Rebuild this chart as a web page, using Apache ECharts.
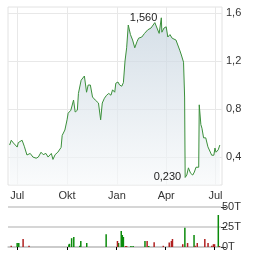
<!DOCTYPE html>
<html><head><meta charset="utf-8">
<script src="https://cdn.jsdelivr.net/npm/echarts@6/dist/echarts.min.js"></script>
<style>html,body{margin:0;padding:0;background:#fff}#c{width:264px;height:255px}</style>
</head><body><div id="c"></div>
<script>
var priceDates = ["2023-06-17","2023-06-20","2023-06-24","2023-06-27","2023-07-01","2023-07-03","2023-07-06","2023-07-10","2023-07-14","2023-07-19","2023-07-25","2023-07-30","2023-08-05","2023-08-09","2023-08-14","2023-08-18","2023-08-23","2023-08-27","2023-09-02","2023-09-05","2023-09-09","2023-09-14","2023-09-20","2023-09-22","2023-09-27","2023-10-01","2023-10-03","2023-10-06","2023-10-08","2023-10-10","2023-10-13","2023-10-16","2023-10-20","2023-10-22","2023-10-27","2023-11-02","2023-11-06","2023-11-09","2023-11-13","2023-11-17","2023-11-22","2023-11-28","2023-12-02","2023-12-05","2023-12-09","2023-12-13","2023-12-17","2023-12-21","2023-12-24","2023-12-28","2023-12-30","2024-01-03","2024-01-06","2024-01-10","2024-01-13","2024-01-16","2024-01-19","2024-01-22","2024-01-26","2024-01-30","2024-02-03","2024-02-07","2024-02-10","2024-02-16","2024-02-21","2024-02-27","2024-03-04","2024-03-07","2024-03-11","2024-03-15","2024-03-19","2024-03-23","2024-03-24","2024-03-28","2024-04-01","2024-04-04","2024-04-08","2024-04-12","2024-04-15","2024-04-19","2024-04-22","2024-04-26","2024-04-29","2024-05-03","2024-05-05","2024-05-06","2024-05-09","2024-05-12","2024-05-16","2024-05-20","2024-05-23","2024-05-26","2024-05-31","2024-06-01","2024-06-04","2024-06-06","2024-06-09","2024-06-13","2024-06-17","2024-06-20","2024-06-24","2024-06-28","2024-06-30","2024-07-02","2024-07-06","2024-07-09"];
var priceValues = [0.50,0.54,0.517,0.52,0.483,0.52,0.525,0.54,0.49,0.417,0.43,0.40,0.39,0.40,0.44,0.42,0.43,0.40,0.43,0.38,0.42,0.44,0.48,0.58,0.625,0.71,0.765,0.77,0.79,0.79,0.875,0.775,0.79,0.93,1.04,1.075,0.94,1.0,1.0,0.90,0.875,0.85,0.71,0.85,0.89,0.915,0.93,0.915,0.96,0.94,1.015,1.025,1.0,0.99,1.02,1.2,1.31,1.50,1.42,1.375,1.31,1.36,1.39,1.40,1.43,1.46,1.475,1.485,1.52,1.475,1.43,1.56,1.44,1.475,1.485,1.40,1.42,1.39,1.40,1.375,1.36,1.29,1.25,1.19,0.90,0.23,0.25,0.31,0.265,0.25,0.275,0.315,0.315,0.835,0.67,0.64,0.56,0.56,0.485,0.475,0.415,0.415,0.475,0.44,0.46,0.50];

var volUpDates = ["2023-07-01","2023-07-04","2023-10-05","2023-10-06","2023-10-10","2023-10-14","2023-10-25","2023-10-27","2023-11-07","2023-12-13","2024-01-05","2024-01-10","2024-01-12","2024-01-14","2024-01-28","2024-02-01","2024-02-23","2024-03-01","2024-05-07","2024-05-24","2024-07-08"];
var volUpValues = [5,5,3,4,11,12.5,1.5,7.5,5,16,5,20,15,12.5,1.2,1.2,7.5,1.2,24,15,40];
var volDownDates = ["2023-06-20","2023-07-12","2023-07-23","2024-01-03","2024-01-18","2024-01-20","2024-02-27","2024-03-11","2024-03-28","2024-04-08","2024-04-12","2024-04-14","2024-05-03","2024-05-12","2024-05-26","2024-05-30","2024-06-13","2024-06-19","2024-06-26","2024-06-29","2024-07-01","2024-07-10"];
var volDownValues = [1.5,10,1.5,7.5,1.2,1.2,7.5,6,1.5,5.5,7.5,10,3.5,5,1.5,5,10,5,1.5,3.5,3.5,1.2];

var xTickDates = ["2023-07-01","2023-10-01","2024-01-01","2024-04-01","2024-07-01"];
var xTickLabels = ["Jul","Okt","Jan","Apr","Jul"];
var yTicks = [0.4,0.8,1.2,1.6];

function ts(d){ var p=d.split('-'); return Date.UTC(+p[0],+p[1]-1,+p[2]); }
function zip(a,b){ return a.map(function(d,i){ return [ts(d), b[i]]; }); }
var xMin = ts("2023-06-14"), xMax = ts("2024-07-13");
var tickTs = xTickDates.map(ts);
var FONT = 'Liberation Sans';
var chart = echarts.init(document.getElementById('c'));
chart.setOption({
  animation:false,
  textStyle:{fontFamily:FONT},
  grid:[
    {left:8, right:42, top:7, height:178, show:true, borderColor:'#e2e2e2', borderWidth:1, backgroundColor:'transparent'},
    {left:8, right:43, top:207, height:40}
  ],
  xAxis:[
    {type:'value', gridIndex:0, min:xMin, max:xMax,
     axisLine:{show:false}, axisTick:{show:false, customValues:tickTs},
     splitLine:{show:true, lineStyle:{color:'#e8e8e8', width:1}},
     axisLabel:{customValues:tickTs, color:'#333', fontSize:11, fontFamily:FONT, margin:5,
       formatter:function(v){ var i=tickTs.indexOf(v); return i>=0?xTickLabels[i]:''; }}},
    {type:'value', gridIndex:1, min:xMin, max:xMax, position:'top',
     axisLine:{show:true, lineStyle:{color:'#c8c8c8', width:1.5}},
     axisTick:{show:true, inside:true, length:3, customValues:tickTs, lineStyle:{color:'#000'}},
     splitLine:{show:false}, axisLabel:{show:false}}
  ],
  yAxis:[
    {type:'value', gridIndex:0, position:'right', min:0.167, max:1.65,
     axisLine:{show:false}, axisTick:{show:false, customValues:yTicks},
     splitLine:{show:true, lineStyle:{color:'#e8e8e8', width:1}},
     axisLabel:{customValues:yTicks, color:'#333', fontSize:11, fontFamily:FONT, margin:4,
       formatter:function(v){ return String(v).replace('.',','); }}},
    {type:'value', gridIndex:1, position:'right', min:0, max:50, interval:25,
     axisLine:{show:false},
     axisTick:{show:true, length:5, lineStyle:{color:'#333'}},
     splitLine:{show:true, lineStyle:{color:'#c8c8c8', width:1.5}},
     axisLabel:{color:'#333', fontSize:11, fontFamily:FONT, margin:1,
       formatter:function(v){ return v+'T'; }}}
  ],
  series:[
    {type:'line', xAxisIndex:0, yAxisIndex:0, data:zip(priceDates, priceValues),
     symbol:'none', lineStyle:{color:'#3a8f3a', width:1},
     areaStyle:{color:new echarts.graphic.LinearGradient(0,0,0,1,[{offset:0,color:'#c3d1dd'},{offset:1,color:'#f7f9fa'}]), origin:'start'},
     markPoint:{symbol:'circle', symbolSize:0, silent:true,
       label:{show:true, position:'left', distance:4, color:'#222', fontSize:11, fontFamily:FONT,
         formatter:function(p){ return p.value.toFixed(3).replace('.',','); }},
       data:[{type:'max'},{type:'min'}]}},
    {type:'bar', xAxisIndex:1, yAxisIndex:1, data:zip(volUpDates, volUpValues), barWidth:1.5, barGap:'-100%', itemStyle:{color:'#0a8a0a'}},
    {type:'bar', xAxisIndex:1, yAxisIndex:1, data:zip(volDownDates, volDownValues), barWidth:1.5, barGap:'-100%', itemStyle:{color:'#b02020'}}
  ]
});
</script></body></html>
